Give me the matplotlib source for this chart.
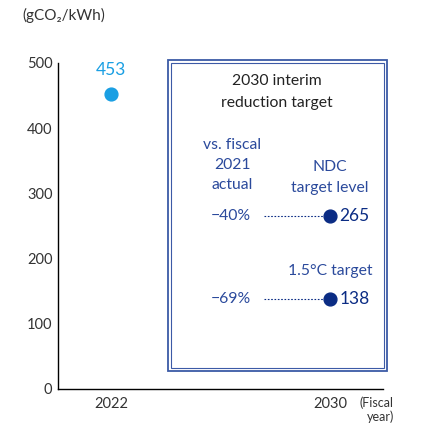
import matplotlib.pyplot as plt
from matplotlib.patches import Rectangle

plt.rcParams['font.family'] = ['Lato', 'DejaVu Sans']

# data
years = [2022]
actual = [453]
target_year = 2030
targets = [265, 138]
reductions = ['\u221240%', '\u221269%']
target_names = ['NDC\ntarget level', '1.5\u00b0C target']
yticks = [0, 100, 200, 300, 400, 500]

light_blue = '#1a9fe3'
navy = '#0b2c84'
text_blue = '#2b4a9c'

W, H = 433, 425
fig = plt.figure(figsize=(W / 100, H / 100), dpi=100)
ax = fig.add_axes([58 / W, 1 - 389 / H, (383 - 58) / W, (389 - 63) / H])

ax.set_xlim(2020.06, 2031.94)
ax.set_ylim(0, 500)
ax.spines['top'].set_visible(False)
ax.spines['right'].set_visible(False)
ax.spines['left'].set_linewidth(1.0)
ax.spines['bottom'].set_linewidth(1.0)
ax.set_yticks(yticks)
ax.set_xticks([2022, 2030])
ax.tick_params(length=0, labelsize=10.5, colors='#333333')
ax.tick_params(axis='y', pad=4)
ax.tick_params(axis='x', pad=6)

ax.scatter(years, actual, s=85, color=light_blue, zorder=3, clip_on=False)
for x, v in zip(years, actual):
    ax.annotate(str(v), (x, v), xytext=(0, 11), textcoords='offset points',
                ha='center', va='bottom', fontsize=12.5, color=light_blue)

# target box (double frame)
def px_rect(x0, y0, x1, y1, lw):
    r = Rectangle((x0 / W, 1 - y1 / H), (x1 - x0) / W, (y1 - y0) / H,
                  transform=fig.transFigure, fill=False, edgecolor='#3c5aa6',
                  linewidth=lw)
    fig.add_artist(r)

px_rect(168, 60, 387, 371, 1.3)
px_rect(171, 63, 384, 368, 0.8)

fig.text(277 / W, 1 - 92 / H, '2030 interim\nreduction target', ha='center',
         va='center', fontsize=11.3, color='#222222', linespacing=1.7)
fig.text(232 / W, 1 - 165 / H, 'vs. fiscal\n2021\nactual', ha='center',
         va='center', fontsize=11.3, color=text_blue, linespacing=1.55)

ax.scatter([target_year] * len(targets), targets, s=85, color=navy, zorder=3)
for v, red, name in zip(targets, reductions, target_names):
    ax.plot([2027.6, 2029.8], [v, v], linestyle=(0, (1.5, 1.5)),
            linewidth=0.8, color=navy)
    ax.annotate(str(v), (target_year, v), xytext=(7, 0),
                textcoords='offset points', ha='left', va='center',
                fontsize=12.5, color=navy)
    ax.annotate(red, (target_year, v), xytext=(-57, 0),
                textcoords='offset points', ha='right', va='center',
                fontsize=11.3, color=text_blue)
    ax.annotate(name, (target_year, v), xytext=(0, 15),
                textcoords='offset points', ha='center', va='bottom',
                fontsize=11.3, color=text_blue, linespacing=1.7)

fig.text(22 / W, 1 - 15 / H, '(gCO\u2082/kWh)', ha='left', va='center',
         fontsize=11, color='#333333')
fig.text(394 / W, 1 - 410 / H, '(Fiscal\nyear)', ha='right', va='center',
         fontsize=9, color='#333333', linespacing=1.15)

fig.savefig('out.png', dpi=100)
